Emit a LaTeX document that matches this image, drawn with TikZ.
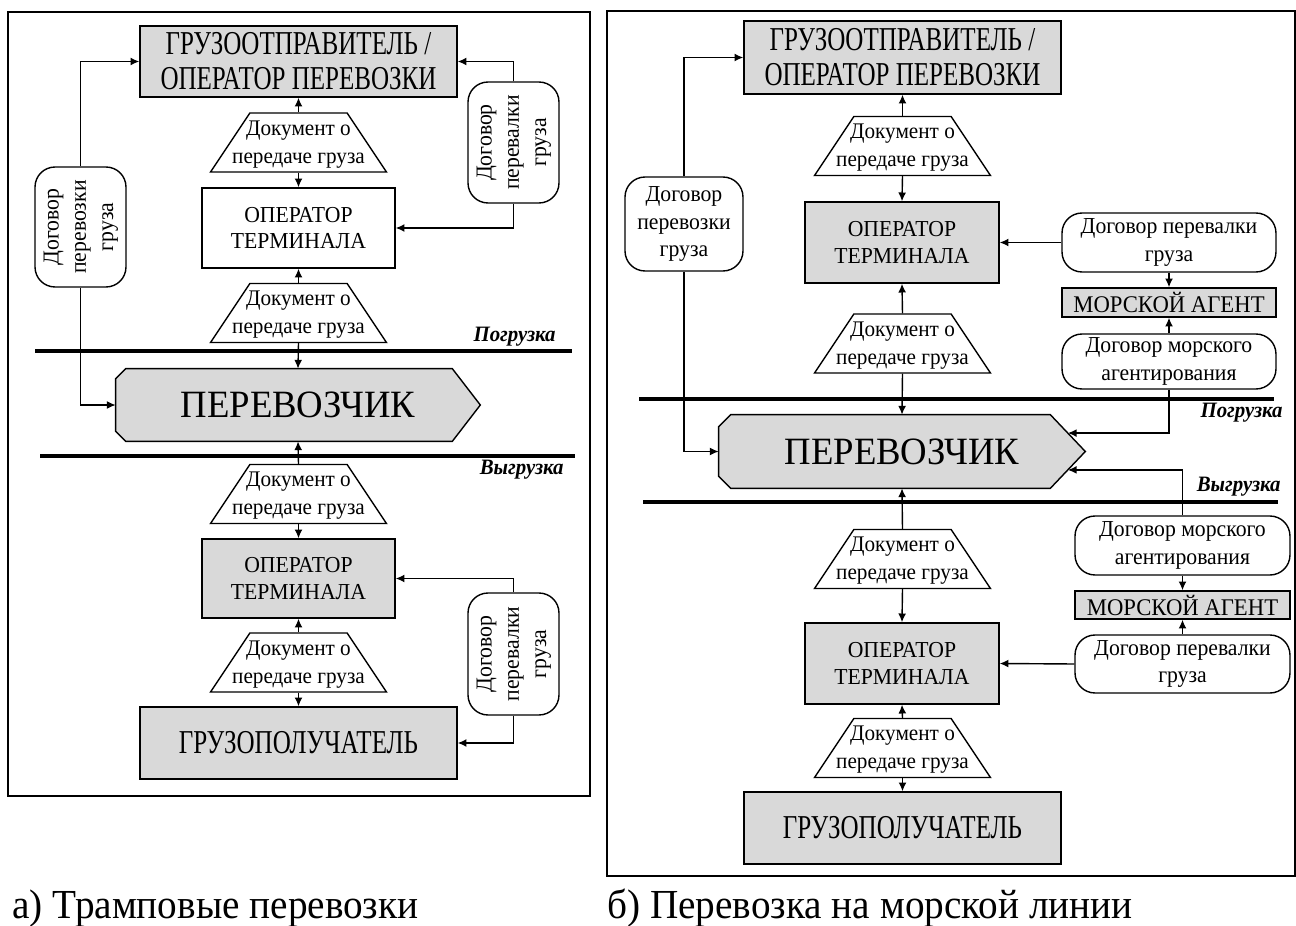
\documentclass[tikz,border=0pt]{standalone}
\usepackage{fontspec}
\setmainfont[FakeStretch=0.95]{Liberation Serif}
\newfontfamily\boxfont[FakeStretch=0.75]{Liberation Serif}
\usetikzlibrary{shapes.geometric,calc,backgrounds,arrows.meta}
\definecolor{boxgray}{RGB}{217,217,217}
\newcommand{\rottext}[1]{\rotatebox{90}{\begin{tabular}{@{}c@{}}#1\end{tabular}}}

\begin{document}
\begin{tikzpicture}[>={Latex[length=5pt,width=4.5pt]}, x=0.02cm, y=-0.02cm]
\tikzset{frame/.style={draw, line width=1pt},
  gbox/.style={draw, fill=boxgray, line width=0.8pt, align=center, inner sep=0pt, font=\boxfont\fontsize{19}{20}\selectfont},
  tbox/.style={gbox, font=\fontsize{13}{15}\selectfont},
  doc/.style={draw, fill=white, line width=0.8pt, trapezium, trapezium stretches=true, trapezium angle=68,
    minimum width=3.52cm, minimum height=1.18cm, inner sep=2pt,
    label={[align=center, yshift=-1pt, font=\fontsize{12.7}{16}\selectfont]center:#1}},
  deal/.style={draw, fill=white, line width=0.8pt, rounded corners=0.4cm, align=center, inner sep=0pt, font=\fontsize{13}{15.5}\selectfont},
  carrier/.style={minimum width=#1, minimum height=1.44cm, inner sep=0pt, font=\fontsize{22}{26}\selectfont},
  carrierfill/.style={draw, fill=boxgray, line width=0.8pt},
  stage/.style={line width=2.8pt},
  stagename/.style={anchor=east, inner sep=0pt, font=\fontsize{12.5}{15}\selectfont\bfseries\itshape},
  caption/.style={anchor=base west, inner sep=0pt, font=\fontsize{23.5}{28}\selectfont},
  link/.style={->, line width=0.8pt}}
\useasboundingbox (0,0) rectangle (1296,926);

% а) трамповые перевозки
\draw[frame] (8,12) rectangle (590,796);
\node[gbox, minimum width=6.34cm, minimum height=1.42cm] (1) at (298.5,61.5) {ГРУЗООТПРАВИТЕЛЬ /\\ОПЕРАТОР ПЕРЕВОЗКИ};
\node[doc={Документ о\\передаче груза}] (2) at (298.5,142.5) {};
\node[tbox, fill=white, minimum width=3.86cm, minimum height=1.6cm] (3) at (298.5,228) {ОПЕРАТОР\\ТЕРМИНАЛА};
\node[doc={Документ о\\передаче груза}] (4) at (298.5,313) {};
\node[carrier=7.28cm] (5) at (298,405) {ПЕРЕВОЗЧИК};
\node[doc={Документ о\\передаче груза}] (6) at (298.5,494) {};
\node[tbox, minimum width=3.86cm, minimum height=1.58cm] (7) at (298.5,578.5) {ОПЕРАТОР\\ТЕРМИНАЛА};
\node[doc={Документ о\\передаче груза}] (8) at (298.5,662.5) {};
\node[gbox, minimum width=6.34cm, minimum height=1.44cm] (9) at (298.5,743) {ГРУЗОПОЛУЧАТЕЛЬ};
\node[deal, minimum width=1.82cm, minimum height=2.4cm] (10) at (80.5,227) {\rottext{Договор\\перевозки\\груза}};
\node[deal, minimum width=1.82cm, minimum height=2.42cm] (11) at (513.5,142.5) {\rottext{Договор\\перевалки\\груза}};
\node[deal, minimum width=1.82cm, minimum height=2.44cm] (12) at (513.5,654) {\rottext{Договор\\перевалки\\груза}};
\begin{scope}[on background layer]
\draw[carrierfill] ([xshift=0.2cm]5.north west) -- ([xshift=-0.56cm]5.north east) -- (5.east)
  -- ([xshift=-0.56cm]5.south east) -- ([xshift=0.2cm]5.south west) -- ([yshift=0.2cm]5.south west)
  -- ([yshift=-0.2cm]5.north west) -- cycle;
\end{scope}
\draw[stage] (35,351) -- (572,351);
\draw[stage] (40,456) -- (575,456);
\node[stagename] (13) at (556,337) {Погрузка};
\node[stagename] (14) at (564,470) {Выгрузка};
\draw[link] (2.north) -- (1.south);
\draw[link] (2.south) -- (3.north);
\draw[link] (4.north) -- (3.south);
\draw[link] (4.south) -- (5.north);
\draw[link] (6.north) -- (5.south);
\draw[link] (6.south) -- (7.north);
\draw[link] (8.north) -- (7.south);
\draw[link] (8.south) -- (9.north);
\draw[link] (10.north) |- (1.west);
\draw[link] (10.south) |- (5.west);
\draw[link] (11.north) |- (1.east);
\draw[link] (11.south) |- (3.east);
\draw[link] (12.north) |- (7.east);
\draw[link] (12.south) |- (9.east);
\node[caption] (15) at (12,918) {а) Трамповые перевозки};

% б) перевозка на морской линии
\draw[frame] (607,11) rectangle (1295,876);
\node[gbox, minimum width=6.34cm, minimum height=1.46cm] (21) at (902.5,57.5) {ГРУЗООТПРАВИТЕЛЬ /\\ОПЕРАТОР ПЕРЕВОЗКИ};
\node[doc={Документ о\\передаче груза}] (22) at (902.5,146) {};
\node[tbox, minimum width=3.88cm, minimum height=1.62cm] (23) at (902,242.5) {ОПЕРАТОР\\ТЕРМИНАЛА};
\node[doc={Документ о\\передаче груза}] (24) at (902.5,343.5) {};
\node[carrier=7.32cm, minimum height=1.46cm] (25) at (902,451.5) {ПЕРЕВОЗЧИК};
\node[doc={Документ о\\передаче груза}] (26) at (902.5,559) {};
\node[tbox, minimum width=3.88cm, minimum height=1.62cm] (27) at (902,663.5) {ОПЕРАТОР\\ТЕРМИНАЛА};
\node[doc={Документ о\\передаче груза}] (28) at (902.5,748) {};
\node[gbox, minimum width=6.34cm, minimum height=1.44cm] (29) at (902.5,828) {ГРУЗОПОЛУЧАТЕЛЬ};
\node[deal, minimum width=2.36cm, minimum height=1.88cm] (30) at (684,224) {Договор\\перевозки\\груза};
\node[deal, minimum width=4.28cm, minimum height=1.18cm] (31) at (1169,242.5) {Договор перевалки\\груза};
\node[gbox, minimum width=4.28cm, minimum height=0.58cm, font=\fontsize{13.6}{16}\selectfont] (32) at (1169,302.5) {МОРСКОЙ АГЕНТ};
\node[deal, minimum width=4.28cm, minimum height=1.1cm] (33) at (1169,361.5) {Договор морского\\агентирования};
\node[deal, minimum width=4.3cm, minimum height=1.18cm] (34) at (1182.5,545.5) {Договор морского\\агентирования};
\node[gbox, minimum width=4.3cm, minimum height=0.56cm, font=\fontsize{13.6}{16}\selectfont] (35) at (1182.5,605) {МОРСКОЙ АГЕНТ};
\node[deal, minimum width=4.3cm, minimum height=1.16cm] (36) at (1182.5,664) {Договор перевалки\\груза};
\begin{scope}[on background layer]
\draw[carrierfill] ([xshift=0.24cm]25.north west) -- ([xshift=-0.7cm]25.north east) -- (25.east)
  -- ([xshift=-0.7cm]25.south east) -- ([xshift=0.24cm]25.south west) -- ([yshift=0.24cm]25.south west)
  -- ([yshift=-0.24cm]25.north west) -- cycle;
\end{scope}
\coordinate (25a) at ($([xshift=-0.7cm]25.north east)!0.5!(25.east)$);
\coordinate (25b) at ($([xshift=-0.7cm]25.south east)!0.5!(25.east)$);
\draw[stage] (639,399) -- (1274,399);
\draw[stage] (643,502) -- (1278,502);
\node[stagename] (37) at (1283,413) {Погрузка};
\node[stagename] (38) at (1281,487) {Выгрузка};
\draw[link] (22.north) -- (21.south);
\draw[link] (22.south) -- (23.north);
\draw[link] (24.north) -- (23.south);
\draw[link] (24.south) -- (25.north);
\draw[link] (26.north) -- (25.south);
\draw[link] (26.south) -- (27.north);
\draw[link] (28.north) -- (27.south);
\draw[link] (28.south) -- (29.north);
\draw[link] (30.north) |- (21.west);
\draw[link] (30.south) |- (25.west);
\draw[link] (31.west) -- (23.east);
\draw[link] (31.south) -- (32.north);
\draw[link] (33.north) -- (32.south);
\draw[link] (33.south) |- (25a);
\draw[link] (34.north) |- (25b);
\draw[link] (34.south) -- (35.north);
\draw[link] (36.north) -- (35.south);
\draw[link] (36.west) -- (27.east);
\node[caption] (39) at (607,918) {б) Перевозка на морской линии};
\end{tikzpicture}
\end{document}
